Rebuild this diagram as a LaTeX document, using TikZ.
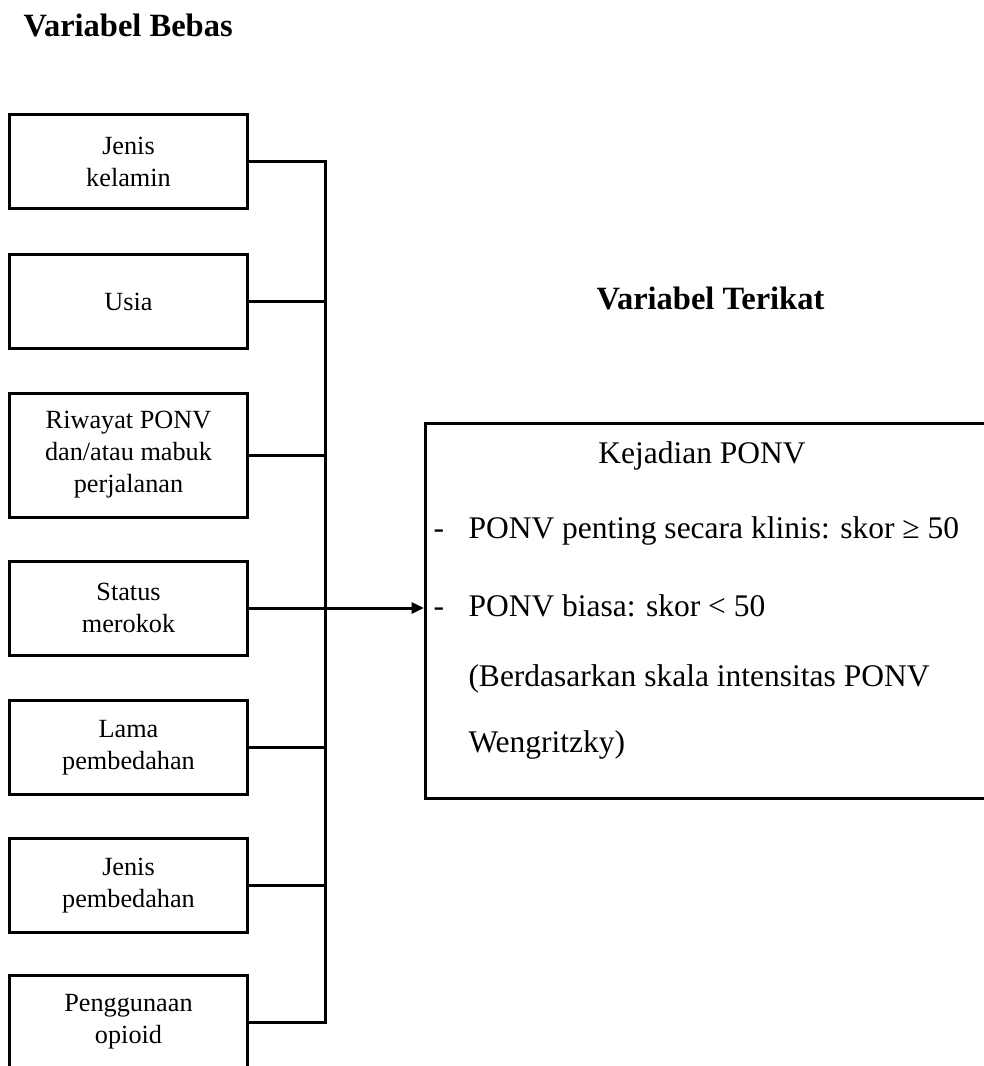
\documentclass[tikz,border=0pt]{standalone}
\usepackage{fontspec}
\setmainfont{Liberation Serif}
\usetikzlibrary{arrows.meta, positioning}

\begin{document}
\begin{tikzpicture}[x=0.4pt, y=-0.4pt, line width=1.2pt,
  varbox/.style={draw, minimum width=94.8pt, minimum height=37.6pt, inner sep=0pt,
    align=center, font=\fontsize{10.5}{12.8}\selectfont},
  head/.style={inner sep=0pt, anchor=base west, font=\bfseries\fontsize{13}{15}\selectfont},
  item/.style={inner sep=0pt, anchor=base west, font=\fontsize{12.6}{15}\selectfont}]
  \useasboundingbox (0,0) rectangle (984,1066);
  % --- headings ---
  \node[head] (bebas)   at (22,36)   {Variabel Bebas};
  \node[head] (terikat) at (595,309) {Variabel Terikat};
  % --- independent variables ---
  \node[varbox] (jk)      at (128.5,161.5) {Jenis\\kelamin};
  \node[varbox] (usia)    at (128.5,301.5) {Usia};
  \node[varbox, minimum height=49.6pt] (riwayat) at (128.5,455) {Riwayat PONV\\dan/atau mabuk\\perjalanan};
  \node[varbox] (rokok)   at (128.5,608)   {Status\\merokok};
  \node[varbox] (lama)    at (128.5,747.5) {Lama\\pembedahan};
  \node[varbox] (jenis)   at (128.5,885.5) {Jenis\\pembedahan};
  \node[varbox] (opioid)  at (128.5,1022)  {Penggunaan\\opioid};
  % --- dependent variable ---
  \node[draw, minimum width=236pt, minimum height=150pt, anchor=north west] (ponv) at (424,422) {};
  \node[item, anchor=base] (kejadian) at (702,463) {Kejadian PONV};
  \node[item] (klinis) at (432,538) {\makebox[14pt][l]{-}PONV penting secara klinis: skor ≥ 50};
  \node[item] (biasa)  at (432,616) {\makebox[14pt][l]{-}PONV biasa: skor < 50};
  \node[item] (skala)  at (467,686) {(Berdasarkan skala intensitas PONV};
  \node[item] (wengritzky) at (467,752) {Wengritzky)};
  % --- connectors ---
  \coordinate (bus) at (325,0);
  \draw (jk.east) -| (opioid.east -| bus) -- (opioid.east);
  \foreach \n in {usia, riwayat, lama, jenis}
    \draw (\n.east) -- (\n.east -| bus);
  \draw[-{Triangle[length=5pt, width=4.4pt]}] (rokok.east) -- (rokok.east -| ponv.west);
\end{tikzpicture}
\end{document}
